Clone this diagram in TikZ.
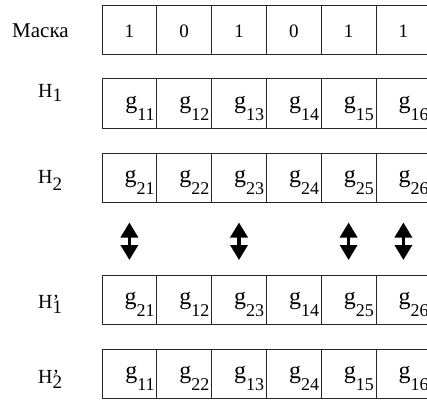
\documentclass[tikz,border=0pt]{standalone}
\usepackage{fontspec}
\setmainfont{Liberation Serif}
\usetikzlibrary{arrows.meta}
\newcommand{\gsub}[1]{{\fontsize{24}{24}\selectfont g}\raisebox{-12pt}{\fontsize{18}{18}\selectfont #1}}
\newcommand{\hlab}[2]{{\fontsize{20}{20}\selectfont H}\raisebox{-#2}{\fontsize{19}{19}\selectfont #1}}
\newcommand{\hplab}[1]{{\fontsize{20}{20}\selectfont H\rlap{’}}\raisebox{-5pt}{\fontsize{19}{19}\selectfont #1}}
\begin{document}
\begin{tikzpicture}[x=1pt,y=1pt,
  cell/.style={draw=black!85, line width=1pt, minimum width=54.8pt, minimum height=49.5pt,
    inner sep=0pt, outer sep=0pt, anchor=north west},
  gtext/.style={anchor=base east, inner sep=0pt},
  mtext/.style={font=\fontsize{19}{19}\selectfont, anchor=base, inner sep=0pt},
  rowlab/.style={anchor=base west, inner sep=0pt},
  swaparrow/.style={line width=3.4pt, {Triangle[width=17pt,length=15pt]}-{Triangle[width=17pt,length=15pt]}}]
\useasboundingbox (0,0) rectangle (427,-399);
\clip (0,0) rectangle (427,-399);
% cells
\foreach \r/\top in {0/5,1/78.5,2/153,3/275,4/349}{
  \foreach \c in {1,...,6}{
    \node[cell] (r\r c\c) at ({102+54.8*(\c-1)},-\top) {};
  }
}
% mask
\foreach \c/\v in {1/1,2/0,3/1,4/0,5/1,6/1}{
  \node[mtext] (m\c) at ([yshift=17pt]r0c\c.south) {\v};
}
% genes
\foreach \r/\list in {1/{11,12,13,14,15,16},2/{21,22,23,24,25,26},3/{21,12,23,14,25,26},4/{11,22,13,24,15,16}}{
  \foreach \v [count=\c] in \list {
    \node[gtext] (g\r\c) at ([xshift=-2pt,yshift=20pt]r\r c\c.south east) {\gsub{\v}};
  }
}
% labels
\node[rowlab, font=\fontsize{21}{21}\selectfont] (lmask) at (12,-37) {Маска};
\node[rowlab] (lh1) at (38,-97) {\hlab{1}{4pt}};
\node[rowlab] (lh2) at (38,-183) {\hlab{2}{7pt}};
\node[rowlab] (lh1p) at (38,-308) {\hplab{1}};
\node[rowlab] (lh2p) at (38,-383) {\hplab{2}};
% swap arrows
\foreach \c in {1,3,5,6}{
  \coordinate (at\c) at ([yshift=-20pt]r2c\c.south);
  \coordinate (ab\c) at ([yshift=15pt]r3c\c.north);
  \draw[swaparrow] (at\c) -- (ab\c);
}
\end{tikzpicture}
\end{document}
